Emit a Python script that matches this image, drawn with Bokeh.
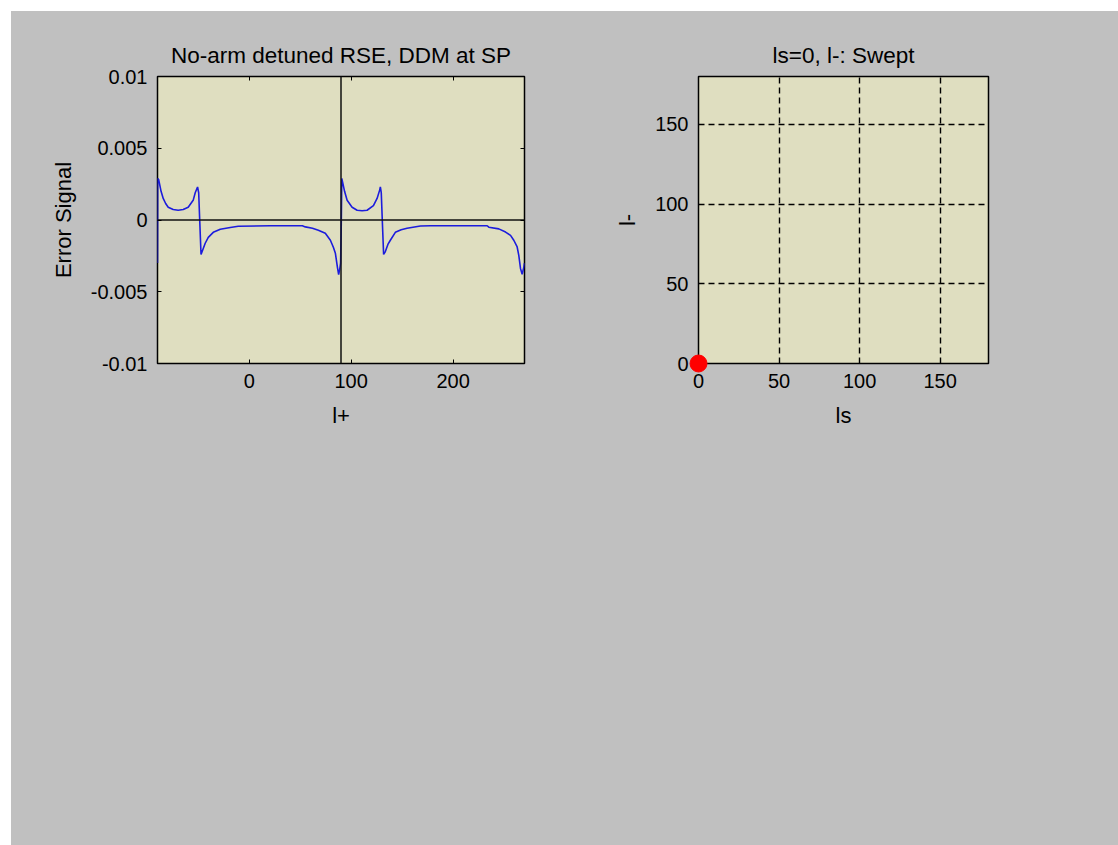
from bokeh.plotting import figure
from bokeh.models import FixedTicker, LinearAxis, Range1d, Spacer
from bokeh.layouts import row, column
from bokeh.embed import file_html
from bokeh.resources import INLINE

# ---------------- data ----------------
TITLE1 = "No-arm detuned RSE, DDM at SP"
TITLE2 = "ls=0, l-: Swept"
XLABEL1 = "l+"
YLABEL1 = "Error Signal"
XLABEL2 = "ls"
YLABEL2 = "l-"

X1_RANGE = (-90, 270)
Y1_RANGE = (-0.01, 0.01)
X1_TICKS = [0, 100, 200]
Y1_TICKS = [-0.01, -0.005, 0, 0.005, 0.01]
Y1_TICK_LABELS = ["-0.01", "-0.005", "0", "0.005", "0.01"]

# l+ sweep (deg) and error signal
l_plus = [-90.0, -89.8, -88.8, -86.5, -84.4, -82.0, -79.5, -74.6, -69.7, -64.8,
          -59.9, -55.0, -53.0, -50.7, -49.6, -48.6, -47.3, -46.2, -43.2, -40.2,
          -35.3, -28.4, -18.6, -10.8, 20.6, 52.1, 55.0, 62.0, 67.8, 74.6,
          79.6, 82.5, 84.5, 86.5, 87.7, 88.8, 89.6, 90.2, 90.8,
          91.1, 93.5, 96.0, 100.9, 105.8, 110.7, 115.6, 121.8, 125.4, 128.0,
          128.6, 129.5, 130.5, 131.8, 133.5, 136.0, 138.4, 143.3, 149.0, 154.8,
          167.9, 177.7, 233.4, 235.0, 244.8, 251.4, 256.3, 259.5, 262.8, 264.4,
          266.1, 267.7, 269.3, 270.0]
err_sig = [-0.0030, 0.0029, 0.0028, 0.0020, 0.00150, 0.00115, 0.00089, 0.00073, 0.00068, 0.00073,
           0.00089, 0.00137, 0.00190, 0.0023, 0.0019, 0.0, -0.0024, -0.0022, -0.00162, -0.00121,
           -0.00086, -0.00065, -0.00052, -0.00044, -0.00040, -0.00040, -0.00048, -0.00058, -0.00072, -0.00093,
           -0.00141, -0.0019, -0.00232, -0.0033, -0.0038, -0.0034, -0.0030, -0.0007, 0.0029,
           0.0028, 0.0020, 0.00137, 0.00089, 0.00068, 0.00065, 0.00068, 0.0010, 0.0015, 0.0021,
           0.0023, 0.0019, 0.0, -0.0024, -0.0022, -0.0017, -0.00141, -0.00086, -0.00068, -0.00058,
           -0.00042, -0.00040, -0.00040, -0.00050, -0.00062, -0.00084, -0.00107, -0.00141, -0.00188, -0.00246,
           -0.00339, -0.00378, -0.00330, -0.0030]

CURSOR_LPLUS = 90      # current operating point (vertical line)
ZERO_LEVEL = 0.0       # zero line

X2_RANGE = (0, 180)
Y2_RANGE = (0, 180)
X2_TICKS = [0, 50, 100, 150]
Y2_TICKS = [0, 50, 100, 150]
LS_POS = [0]
LM_POS = [0]

# ---------------- style ----------------
FONT = "Liberation Sans"
FIG_BG = "#c0c0c0"
PLOT_BG = "#dfdec0"
TICK_FS = "20px"
LABEL_FS = "22px"
TITLE_FS = "22.5px"


def style_axis(ax, ticks, show_labels=True, overrides=None):
    ax.ticker = FixedTicker(ticks=ticks)
    ax.axis_line_color = None
    ax.major_tick_in = 4
    ax.major_tick_out = 0
    ax.major_tick_line_color = "black"
    ax.major_tick_line_width = 1
    ax.minor_tick_line_color = None
    ax.major_label_text_font = FONT
    if show_labels:
        ax.major_label_text_color = "black"
        ax.major_label_text_font_size = TICK_FS
        ax.major_label_standoff = 10
    else:
        ax.major_label_text_color = None
        ax.major_label_text_font_size = "1px"
        ax.major_label_standoff = 0
    if overrides:
        ax.major_label_overrides = overrides
    ax.axis_label_text_font = FONT
    ax.axis_label_text_font_size = LABEL_FS
    ax.axis_label_text_font_style = "normal"
    ax.axis_label_text_color = "black"


def base_fig(width, left, right, xr, yr, title):
    p = figure(width=width, height=834, x_range=Range1d(*xr), y_range=Range1d(*yr),
               output_backend="svg", toolbar_location=None,
               min_border_left=left, min_border_right=right,
               min_border_top=65, min_border_bottom=482,
               background_fill_color=PLOT_BG, border_fill_color=FIG_BG,
               outline_line_color="black", outline_line_width=1.5, title=title)
    p.title.text_font = FONT
    p.title.text_font_size = TITLE_FS
    p.title.text_font_style = "normal"
    p.title.text_color = "black"
    p.title.align = "center"
    p.title.standoff = 17
    return p


# ---------------- left plot ----------------
p1 = base_fig(549, 146, 36, X1_RANGE, Y1_RANGE, TITLE1)
p1.grid.visible = False
y_over = {t: s for t, s in zip(Y1_TICKS, Y1_TICK_LABELS)}
style_axis(p1.xaxis[0], X1_TICKS)
style_axis(p1.yaxis[0], Y1_TICKS, overrides=y_over)
p1.xaxis.axis_label = XLABEL1
p1.yaxis.axis_label = YLABEL1
p1.xaxis.axis_label_standoff = 12
p1.yaxis.axis_label_standoff = 12
top1 = LinearAxis()
style_axis(top1, X1_TICKS, show_labels=False)
right1 = LinearAxis()
style_axis(right1, Y1_TICKS, show_labels=False)
p1.add_layout(top1, "above")
p1.add_layout(right1, "right")

p1.line(l_plus, err_sig, line_color="#1c1cdc", line_width=1.6)
p1.line([X1_RANGE[0], X1_RANGE[1]], [ZERO_LEVEL, ZERO_LEVEL], line_color="#111111", line_width=1.5)
p1.line([CURSOR_LPLUS, CURSOR_LPLUS], [Y1_RANGE[0], Y1_RANGE[1]], line_color="#111111", line_width=1.5)

# ---------------- right plot ----------------
p2 = base_fig(558, 138, 130, X2_RANGE, Y2_RANGE, TITLE2)
style_axis(p2.xaxis[0], X2_TICKS)
style_axis(p2.yaxis[0], Y2_TICKS)
p2.xaxis.major_tick_in = 0
p2.yaxis.major_tick_in = 0
p2.xaxis.axis_label = XLABEL2
p2.yaxis.axis_label = YLABEL2
p2.xaxis.axis_label_standoff = 12
p2.yaxis.axis_label_standoff = 12
p2.xgrid.ticker = FixedTicker(ticks=X2_TICKS)
p2.ygrid.ticker = FixedTicker(ticks=Y2_TICKS)
for g in (p2.xgrid[0], p2.ygrid[0]):
    g.grid_line_color = "black"
    g.grid_line_width = 1.4
    g.grid_line_dash = "6 4"
    g.grid_line_alpha = 1.0

p2.scatter(LS_POS, LM_POS, size=17, fill_color="#ff0000", line_color="#ff0000", level="overlay")

inner = row(p1, p2, styles={"background-color": FIG_BG})
layout = column(Spacer(height=11), row(Spacer(width=11), inner))
open("out.html", "w").write(file_html(layout, INLINE))
